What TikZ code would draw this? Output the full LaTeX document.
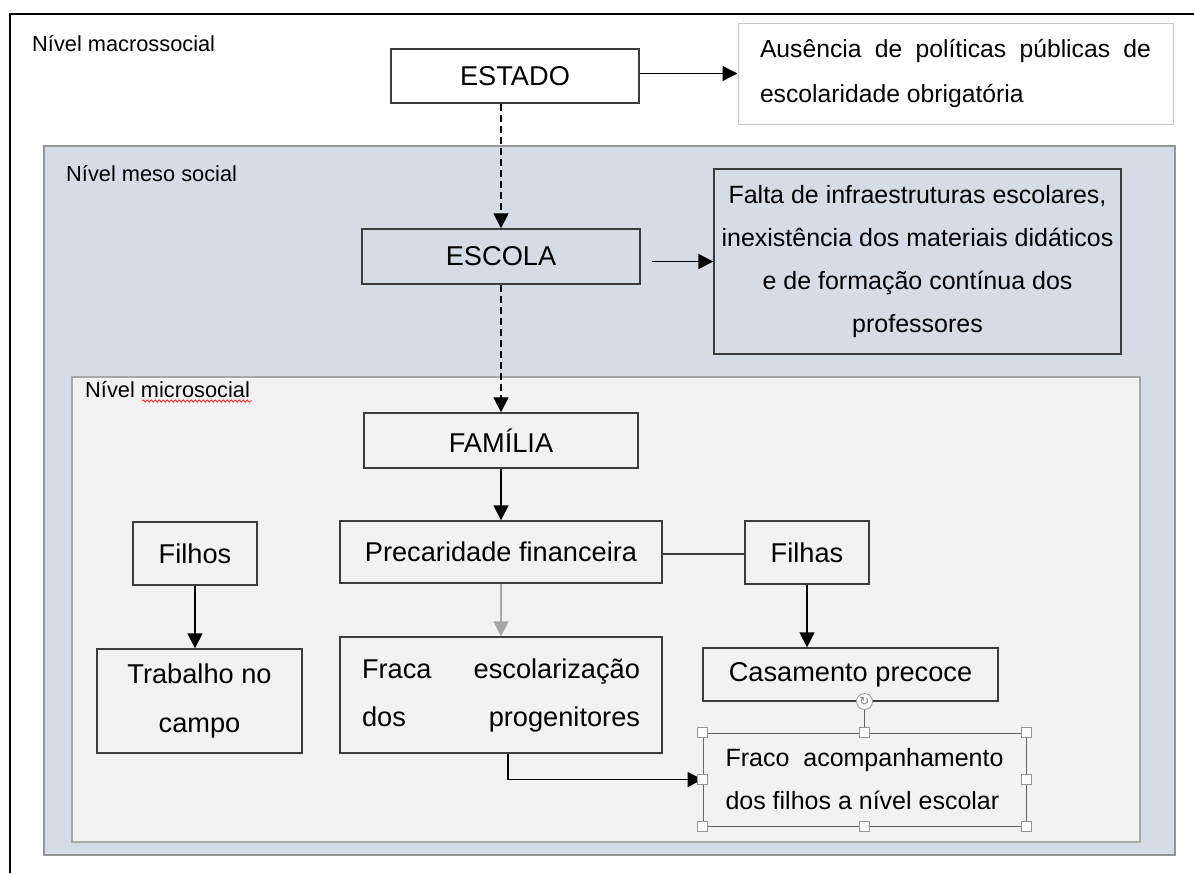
\documentclass[tikz,border=0pt]{standalone}
\usepackage{fontspec}
\setmainfont{Liberation Sans}
\newfontfamily\symbfont{DejaVu Sans}
\usetikzlibrary{arrows.meta,decorations.pathmorphing}
\definecolor{mesofill}{RGB}{214,220,229}
\definecolor{microfill}{RGB}{242,242,242}
\definecolor{mesoline}{RGB}{150,150,150}
\definecolor{microline}{RGB}{168,168,168}
\definecolor{boxline}{RGB}{60,60,60}
\definecolor{lightline}{RGB}{200,200,200}
\definecolor{grayarrow}{RGB}{166,166,166}
\definecolor{handleline}{RGB}{150,150,150}
\begin{document}
\begin{tikzpicture}[x=1pt,y=-1pt,
  box/.style={draw=boxline, line width=1.3pt, inner sep=0pt, align=center},
  big/.style={font=\fontsize{27.2}{49}\selectfont},
  lbl/.style={inner sep=0pt, anchor=west, font=\fontsize{21.8}{26}\selectfont},
  arr/.style={line width=1.3pt, -{Triangle[length=15pt,width=15pt]}},
  dashline/.style={line width=1.2pt, dash pattern=on 7pt off 4pt, -{Triangle[length=15pt,width=15pt]}},
  handle/.style={draw=handleline, fill=white, line width=0.8pt, minimum size=10pt, inner sep=0pt},
]
\useasboundingbox (0,0) rectangle (1194,873);
\fill[white] (0,0) rectangle (1194,873);
% outer frame
\draw[line width=2.5pt] (10,873) -- (10,14) -- (1194,14);
\node[lbl] (lmacro) at (32,44) {Nível macrossocial};
% meso level
\draw[fill=mesofill, draw=mesoline, line width=2pt] (44,146) rectangle (1175,855);
\node[lbl] (lmeso) at (66,174) {Nível meso social};
% micro level
\draw[fill=microfill, draw=microline, line width=2pt] (72,377) rectangle (1140,842);
\node[lbl] (lmicro) at (85,390) {Nível microsocial};
\draw[red, line width=0.6pt, decorate, decoration={snake, amplitude=1.2pt, segment length=4pt}] (142,401) -- (252,401);

% boxes
\node[box, big, fill=white, minimum width=248pt, minimum height=54pt] (estado) at (515,76) {ESTADO};
\node[box, draw=lightline, line width=1pt, fill=white, minimum width=435pt, minimum height=101pt, align=left,
      font=\fontsize{24.7}{45}\selectfont] (aus) at (955.5,73.5)
  {\makebox[391pt][s]{Ausência de políticas públicas de}\\\makebox[391pt][l]{escolaridade obrigatória}};
\node[box, big, fill=mesofill, minimum width=278pt, minimum height=55pt] (escola) at (501,256.5) {ESCOLA};
\node[box, fill=mesofill, minimum width=407pt, minimum height=185pt, font=\fontsize{25}{43}\selectfont] (falta) at (917.5,261.5)
  {Falta de infraestruturas escolares,\\inexistência dos materiais didáticos\\e de formação contínua dos\\professores};
\node[box, big, fill=microfill, minimum width=274pt, minimum height=55pt] (familia) at (501,440.5) {FAMÍLIA};
\node[box, big, fill=microfill, minimum width=322pt, minimum height=62pt] (prec) at (501,552) {Precaridade financeira};
\node[box, big, fill=microfill, minimum width=124pt, minimum height=63pt] (filhas) at (807,552.5) {Filhas};
\node[box, big, fill=microfill, minimum width=124pt, minimum height=63pt] (filhos) at (195,553.5) {Filhos};
\node[box, big, fill=microfill, minimum width=205pt, minimum height=104pt] (trab) at (199.5,701) {Trabalho no\\campo};
\node[box, big, fill=microfill, minimum width=322pt, minimum height=116pt, align=left, font=\fontsize{27.2}{48}\selectfont] (fraca) at (501,695)
  {\makebox[278pt][s]{Fraca escolarização}\\\makebox[278pt][s]{dos progenitores}};
\node[box, big, fill=microfill, minimum width=295pt, minimum height=53pt] (casa) at (850.5,674.5) {Casamento precoce};
\node[box, draw=boxline!80, line width=1pt, fill=microfill, minimum width=323pt, minimum height=93pt, align=left,
      font=\fontsize{25}{43}\selectfont] (fraco) at (864.5,779.5)
  {\makebox[278pt][s]{Fraco acompanhamento}\\\makebox[278pt][l]{dos filhos a nível escolar}};

% connectors
\draw[arr] (estado.east |- aus.west) -- (aus.west);
\coordinate (escolaout) at ([xshift=11pt]escola.east);
\draw[arr] (escolaout |- falta.west) -- (falta.west);
\draw[dashline] (escola.north |- estado.south) -- (escola.north);
\draw[dashline] (escola.south) -- (escola.south |- familia.north);
\draw[arr] (familia.south) -- (familia.south |- prec.north);
\draw[line width=1.2pt, draw=boxline] ([yshift=-2pt]prec.east) -- ([yshift=-2pt]prec.east -| filhas.west);
\draw[arr] (filhas.south) -- (filhas.south |- casa.north);
\draw[arr] (filhos.south) -- (filhos.south |- trab.north);
\draw[line width=1.2pt, draw=grayarrow, -{Triangle[length=15pt,width=15pt]}] (prec.south) -- (fraca.north);
\coordinate (fracaout) at ([xshift=7pt]fraca.south);
\draw[arr] (fracaout) |- (fraco.west);

% selection handles
\node[circle, draw=handleline, fill=white, line width=0.8pt, minimum size=16pt, inner sep=0pt,
      font=\symbfont\fontsize{12}{12}\selectfont, text=gray] (rot) at ([yshift=31pt]fraco.north) {↻};
\draw[draw=boxline!80, line width=1pt] (rot) -- (fraco.north);
\foreach \a [count=\i] in {north west,north,north east,east,south east,south,south west,west}
  \node[handle] (h\i) at (fraco.\a) {};
\end{tikzpicture}
\end{document}
